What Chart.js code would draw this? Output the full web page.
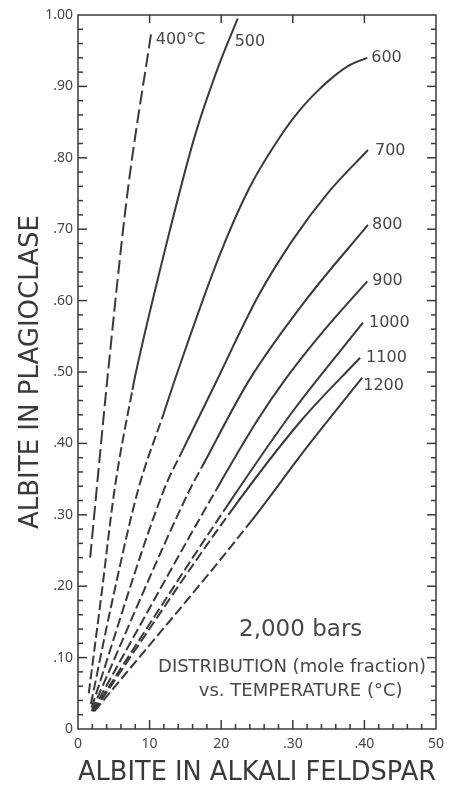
<!DOCTYPE html>
<html>
<head>
<meta charset="utf-8">
<script src="https://cdn.jsdelivr.net/npm/chart.js@4.4.0/dist/chart.umd.min.js"></script>
<style>
  html, body { margin: 0; padding: 0; background: #fff; }
</style>
</head>
<body>
<canvas id="albite_chart" width="451" height="799"></canvas>
<script>
// isotherm labels
const temps = ['400°C', '500', '600', '700', '800', '900', '1000', '1100', '1200'];

// albite in alkali feldspar (x) vs albite in plagioclase (y), one pair per isotherm
const x400 = [1.7, 4.2, 6.9, 10.3];
const y400 = [0.24, 0.50, 0.75, 0.98];
const x500 = [1.5, 3.3, 5.1, 7.6, 8.1, 12.0, 16.3, 19.5, 22.3];
const y500 = [0.05, 0.19, 0.335, 0.475, 0.50, 0.665, 0.83, 0.925, 0.995];
const x600 = [1.8, 4.8, 8.4, 11.9, 13.9, 19.8, 24.0, 28.6, 31.0, 33.4, 35.6, 38.0, 40.4];
const y600 = [0.035, 0.18, 0.335, 0.44, 0.50, 0.664, 0.759, 0.835, 0.867, 0.893, 0.913, 0.930, 0.940];
const x700 = [1.9, 12.0, 14.6, 19.0, 25.1, 30.0, 35.0, 40.5];
const y700 = [0.03, 0.335, 0.39, 0.48, 0.605, 0.685, 0.752, 0.811];
const x800 = [1.9, 15.6, 17.2, 24.0, 32.0, 40.5];
const y800 = [0.025, 0.335, 0.365, 0.49, 0.603, 0.706];
const x900 = [2.0, 19.3, 25.1, 28.9, 34.5, 40.4];
const y900 = [0.025, 0.335, 0.433, 0.489, 0.56, 0.627];
const x1000 = [2.1, 21.0, 30.0, 39.8];
const y1000 = [0.025, 0.315, 0.445, 0.569];
const x1100 = [2.2, 21.0, 31.0, 39.4];
const y1100 = [0.025, 0.30, 0.43, 0.52];
const x1200 = [2.3, 24.1, 32.0, 39.7];
const y1200 = [0.025, 0.29, 0.395, 0.492];

// below this plagioclase value each isotherm is dashed (extrapolated)
const dashedBelow = [1.0, 0.475, 0.44, 0.39, 0.365, 0.335, 0.315, 0.30, 0.29];

// axis tick labels
const xTickLabels = ['0', '10', '20', '.30', '.40', '50'];
const yTickLabels = ['0', '.10', '.20', '.30', '.40', '.50', '.60', '.70', '.80', '.90', '1.00'];

// note in the lower right
const noteLines = ['2,000 bars', 'DISTRIBUTION (mole fraction)', 'vs. TEMPERATURE (°C)'];

/*--- styles ---*/
const ink = '#3a3a3a';
const soft = '#474747';
const face = '"DejaVu Sans", "Noto Sans", sans-serif';
const tickFace = '"Noto Sans", "DejaVu Sans", sans-serif';
// pixel nudges for the isotherm labels, from the curve end
const labelShift = [[4, 11], [-3, 23], [4, 0], [7, 1], [4, 0], [5, 0], [6, 0], [6, 0], [1, 8]];

const xs = [x400, x500, x600, x700, x800, x900, x1000, x1100, x1200];
const ys = [y400, y500, y600, y700, y800, y900, y1000, y1100, y1200];

const datasets = temps.map((t, i) => ({
    label: t,
    data: xs[i].map((x, k) => ({x: x, y: ys[i][k]})),
    borderColor: ink,
    borderWidth: 2,
    pointRadius: 0,
    fill: false,
    cubicInterpolationMode: 'monotone',
    segment: {
        borderDash: ctx => ctx.p1.parsed.y <= dashedBelow[i] + 1e-9 ? (i === 0 ? [14, 5] : [10, 4]) : undefined
    }
}));

// frame with inward ticks on all four sides
const frame_ticks = {
    id: 'frame_ticks',
    afterDraw(chart) {
        const {ctx, chartArea: a, scales: {x, y}} = chart;
        const seg = (x0, y0, x1, y1) => { ctx.beginPath(); ctx.moveTo(x0, y0); ctx.lineTo(x1, y1); ctx.stroke(); };
        ctx.save();
        ctx.strokeStyle = ink;
        ctx.lineWidth = 1.5;
        ctx.strokeRect(a.left, a.top, a.right - a.left, a.bottom - a.top);
        for (let i = 1; i < 50; i++) {
            const py = y.getPixelForValue(i / 50);
            const len = i % 5 === 0 ? 9 : 5;
            seg(a.left, py, a.left + len, py);
            seg(a.right, py, a.right - len, py);
        }
        for (let i = 1; i < 25; i++) {
            const px = x.getPixelForValue(i * 2);
            seg(px, a.bottom, px, a.bottom - (i % 5 === 0 ? 9 : 5));
            if (i % 5 === 0) seg(px, a.top, px, a.top + 8);
        }
        ctx.restore();
    }
};

// isotherm labels and the note
const curve_labels = {
    id: 'curve_labels',
    afterDatasetsDraw(chart) {
        const {ctx, scales: {x, y}} = chart;
        ctx.save();
        ctx.fillStyle = soft;
        ctx.textBaseline = 'middle';
        ctx.textAlign = 'left';
        ctx.font = '16px ' + face;
        chart.data.datasets.forEach((ds, i) => {
            const meta = chart.getDatasetMeta(i);
            const end = meta.data[meta.data.length - 1];
            ctx.fillText(temps[i], end.x + labelShift[i][0], end.y + labelShift[i][1]);
        });
        ctx.textAlign = 'center';
        ctx.font = '23px ' + face;
        ctx.fillText(noteLines[0], x.getPixelForValue(31.1), y.getPixelForValue(0.139));
        ctx.font = '18px ' + face;
        ctx.fillText(noteLines[1], x.getPixelForValue(29.9), y.getPixelForValue(0.087));
        ctx.fillText(noteLines[2], x.getPixelForValue(31.1), y.getPixelForValue(0.053));
        ctx.restore();
    }
};

const options = {
    responsive: false,
    animation: false,
    layout: {padding: {top: 15, right: 15, bottom: 0, left: 0}},
    plugins: {legend: {display: false}, tooltip: {enabled: false}},
    scales: {
        x: {
            type: 'linear', min: 0, max: 50,
            grid: {display: false, drawTicks: false},
            border: {display: false},
            ticks: {stepSize: 10, maxRotation: 0, padding: 7, color: soft, font: {family: tickFace, size: 14},
                callback: (v, i) => xTickLabels[i]},
            title: {display: true, text: 'ALBITE IN ALKALI FELDSPAR', color: ink,
                font: {family: face, size: 27}, padding: {top: 0, bottom: 10}},
            afterFit: s => { s.height = 70; }
        },
        y: {
            type: 'linear', min: 0, max: 1,
            grid: {display: false, drawTicks: false},
            border: {display: false},
            ticks: {stepSize: 0.1, padding: 5, color: soft, font: {family: tickFace, size: 14},
                callback: (v, i) => yTickLabels[i]},
            title: {display: true, text: 'ALBITE IN PLAGIOCLASE', color: ink,
                font: {family: face, size: 26}, padding: {top: 16, bottom: 0}},
            afterFit: s => { s.width = 78; }
        }
    }
};

const chart_albite = new Chart(document.getElementById('albite_chart'), {
    type: 'line',
    data: {datasets: datasets},
    options: options,
    plugins: [frame_ticks, curve_labels]
});
</script>
</body>
</html>
